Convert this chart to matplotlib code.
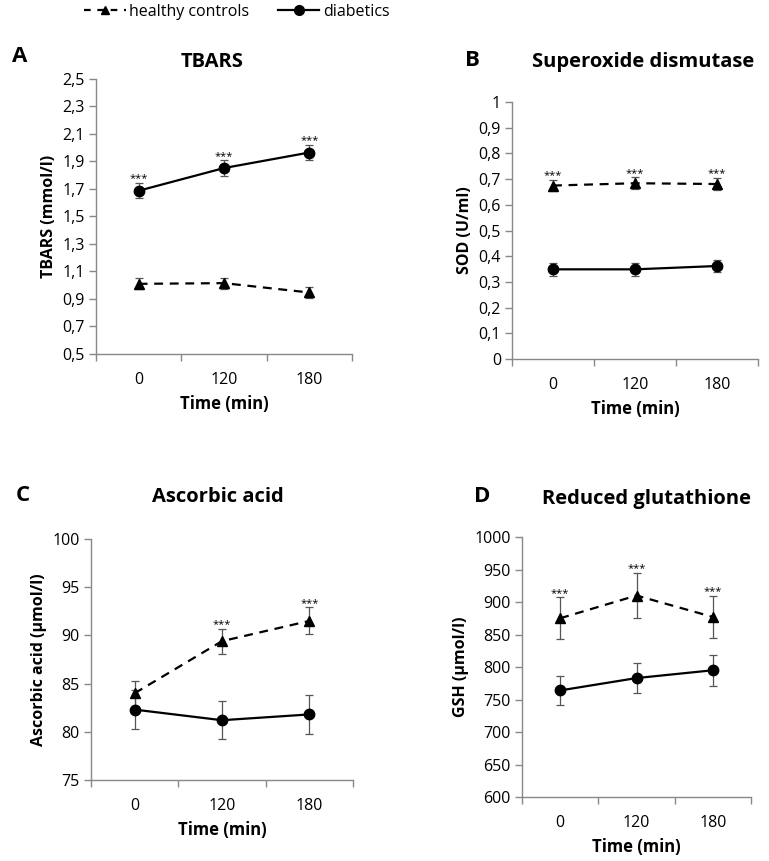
import matplotlib
matplotlib.use("Agg")
import matplotlib.pyplot as plt
from matplotlib.lines import Line2D
from matplotlib.ticker import FixedLocator, FuncFormatter

plt.rcParams['font.family'] = ['Open Sans', 'DejaVu Sans']

times = ["0", "120", "180"]

# TBARS (mmol/l)
tbars_ctrl = [1.01, 1.015, 0.947]
tbars_ctrl_err = [0.04, 0.04, 0.04]
tbars_diab = [1.687, 1.852, 1.965]
tbars_diab_err = [0.055, 0.055, 0.056]

# SOD (U/ml)
sod_ctrl = [0.675, 0.684, 0.681]
sod_ctrl_err = [0.023, 0.023, 0.023]
sod_diab = [0.349, 0.349, 0.362]
sod_diab_err = [0.025, 0.025, 0.025]

# ascorbic acid (umol/l)
asc_ctrl = [84.0, 89.4, 91.5]
asc_ctrl_err = [1.3, 1.3, 1.4]
asc_diab = [82.3, 81.2, 81.8]
asc_diab_err = [2.0, 2.0, 2.0]

# GSH (umol/l)
gsh_ctrl = [875, 910, 877]
gsh_ctrl_err = [32, 35, 32]
gsh_diab = [764, 783, 795]
gsh_diab_err = [22, 23, 24]

panels = [
    dict(letter="A", title="TBARS", ylabel="TBARS (mmol/l)",
         ctrl=tbars_ctrl, ctrl_err=tbars_ctrl_err, diab=tbars_diab, diab_err=tbars_diab_err,
         ylim=(0.5, 2.5), step=0.2, dec=1, star="diab", star_idx=[0, 1, 2],
         rect=[0.1248, 0.5889, 0.3329, 0.3194], letter_xy=(20, 57), title_xy=(212, 62)),
    dict(letter="B", title="Superoxide dismutase", ylabel="SOD (U/ml)",
         ctrl=sod_ctrl, ctrl_err=sod_ctrl_err, diab=sod_diab, diab_err=sod_diab_err,
         ylim=(0, 1), step=0.1, dec=1, star="ctrl", star_idx=[0, 1, 2],
         rect=[0.6658, 0.5830, 0.3199, 0.2985], letter_xy=(472, 60), title_xy=(643, 62)),
    dict(letter="C", title="Ascorbic acid", ylabel="Ascorbic acid (\u00b5mol/l)",
         ctrl=asc_ctrl, ctrl_err=asc_ctrl_err, diab=asc_diab, diab_err=asc_diab_err,
         ylim=(75, 100), step=5, dec=0, star="ctrl", star_idx=[1, 2],
         rect=[0.1183, 0.0941, 0.3407, 0.2799], letter_xy=(23, 495), title_xy=(218, 497)),
    dict(letter="D", title="Reduced glutathione", ylabel="GSH (\u00b5mol/l)",
         ctrl=gsh_ctrl, ctrl_err=gsh_ctrl_err, diab=gsh_diab, diab_err=gsh_diab_err,
         ylim=(600, 1000), step=50, dec=0, star="ctrl", star_idx=[0, 1, 2],
         rect=[0.6788, 0.0743, 0.2978, 0.3020], letter_xy=(482, 497), title_xy=(647, 499)),
]

W, H = 769, 861
fig = plt.figure(figsize=(W / 100, H / 100), dpi=100)

def fmt(dec):
    def f(v, pos):
        if dec == 0 or abs(v - round(v)) < 1e-9:
            return "%d" % round(v)
        return ("%.1f" % v).replace(".", ",")
    return FuncFormatter(f)

x = [0, 1, 2]
for p in panels:
    ax = fig.add_axes(p["rect"])
    ax.errorbar(x, p["ctrl"], yerr=p["ctrl_err"], color="black", ls=(0, (4, 3)), lw=1.6,
                marker="^", ms=7, ecolor="#555555", elinewidth=0.9, capsize=3, capthick=0.9)
    ax.errorbar(x, p["diab"], yerr=p["diab_err"], color="black", ls="-", lw=1.6,
                marker="o", ms=7.5, ecolor="#555555", elinewidth=0.9, capsize=3, capthick=0.9)
    lo, hi = p["ylim"]
    ax.set_ylim(lo, hi)
    ax.set_xlim(-0.5, 2.5)
    n = int(round((hi - lo) / p["step"]))
    ax.yaxis.set_major_locator(FixedLocator([lo + i * p["step"] for i in range(n + 1)]))
    ax.yaxis.set_major_formatter(fmt(p["dec"]))
    ax.set_xticks(x)
    ax.set_xticklabels(times)
    ax.xaxis.set_minor_locator(FixedLocator([-0.5, 0.5, 1.5, 2.5]))
    ax.tick_params(axis="x", which="major", length=0, labelsize=11.5, pad=13)
    ax.tick_params(axis="x", which="minor", length=5, width=1, color="#888888", direction="out")
    ax.tick_params(axis="y", length=5, width=1, color="#888888", labelsize=11.5, direction="out", pad=3)
    for s in ["top", "right"]:
        ax.spines[s].set_visible(False)
    for s in ["left", "bottom"]:
        ax.spines[s].set_color("#888888")
        ax.spines[s].set_linewidth(1)
    ax.set_xlabel("Time (min)", fontsize=12, fontweight="bold", labelpad=5)
    ax.set_ylabel(p["ylabel"], fontsize=11.5, fontweight="bold", labelpad=4)
    vals = p[p["star"]]
    errs = p[p["star"] + "_err"]
    for i in p["star_idx"]:
        ax.annotate("***", (x[i], vals[i] + errs[i]), xytext=(0, -1), textcoords="offset points",
                    ha="center", va="bottom", fontsize=8)
    lx, ly = p["letter_xy"]
    fig.text(lx / W, 1 - ly / H, p["letter"], fontsize=16, fontweight="bold", ha="center", va="center")
    tx, ty = p["title_xy"]
    fig.text(tx / W, 1 - ty / H, p["title"], fontsize=14.5, fontweight="bold", ha="center", va="center")

handles = [
    Line2D([], [], color="black", ls=(0, (3, 3)), lw=1.6, marker="^", ms=6),
    Line2D([], [], color="black", ls="-", lw=1.6, marker="o", ms=7),
]
fig.legend(handles, ["healthy controls", "diabetics"], loc="center left",
           bbox_to_anchor=(70 / W, 1 - 12 / H), ncol=2, frameon=False, fontsize=11.5,
           handlelength=2.6, handletextpad=0.2, columnspacing=1.8)

fig.savefig("out.png", dpi=100)
